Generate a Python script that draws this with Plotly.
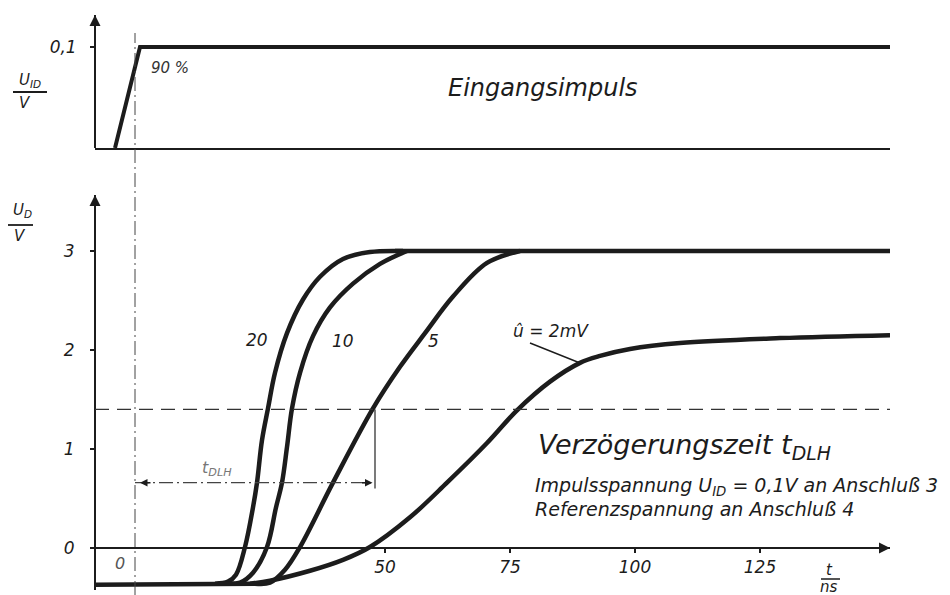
import plotly.graph_objects as go

# ---------------- data (t in ns, U in V) ----------------
baseline_t = [-8, 10, 24]
baseline_u = [-0.37, -0.365, -0.36]

plateau_t = [52, 151]
plateau_u = [3.0, 3.0]

t_20 = [16.0, 18.6, 20.2, 22.0, 23.6, 24.4, 25.4, 26.6, 28.0, 30.4, 33.6, 37.0, 41.6, 47.0, 53.6]
u_20 = [-0.36, -0.34, -0.27, 0.01, 0.41, 0.66, 1.09, 1.41, 1.77, 2.17, 2.51, 2.74, 2.92, 2.99, 3.0]

t_10 = [18.0, 21.0, 23.6, 26.4, 28.2, 29.4, 30.4, 31.4, 33.0, 35.6, 39.0, 43.6, 49.0, 54.4]
u_10 = [-0.36, -0.35, -0.25, 0.01, 0.41, 0.66, 1.02, 1.41, 1.77, 2.14, 2.43, 2.67, 2.87, 3.0]

t_5 = [24.0, 27.0, 30.0, 33.0, 39.6, 47.6, 53.0, 58.0, 63.6, 70.4, 77.0]
u_5 = [-0.36, -0.35, -0.22, 0.01, 0.66, 1.41, 1.83, 2.17, 2.54, 2.88, 3.0]

t_2mv = [23.0, 27.0, 35.0, 41.6, 47.0, 55.0, 62.4, 70.4, 76.4, 83.0, 89.0, 93.0, 99.0, 109.0, 129.0, 151.0]
u_2mv = [-0.36, -0.33, -0.23, -0.12, 0.01, 0.31, 0.66, 1.06, 1.39, 1.68, 1.87, 1.94, 2.01, 2.07, 2.12, 2.15]

pulse_t = [-4, 1, 151]
pulse_u = [0.0, 0.1, 0.1]

curve_labels = ["20", "10", "5"]
x_ticks = [50, 75, 100, 125]
y_ticks = [0, 1, 2, 3]
y2_ticks = [0.1]
threshold_u = 1.4
tdlh_u = 0.66
tdlh_end = 48.0

INK = "#1c1c1c"
OFF = 8                      # page body margin of the HTML page
FW, FH = 950 - OFF, 595 - OFF


def px(x):
    return (x - OFF) / FW


def py(y):
    return 1 - (y - OFF) / FH


fig = go.Figure()

curve_line = dict(color=INK, width=4.5, shape="spline", smoothing=1.0)
for t, u in [(t_20, u_20), (t_10, u_10), (t_5, u_5), (t_2mv, u_2mv)]:
    fig.add_trace(go.Scatter(x=t, y=u, mode="lines", xaxis="x", yaxis="y", line=curve_line,
                             hoverinfo="skip", showlegend=False))
for t, u in [(baseline_t, baseline_u), (plateau_t, plateau_u)]:
    fig.add_trace(go.Scatter(x=t, y=u, mode="lines", xaxis="x", yaxis="y",
                             line=dict(color=INK, width=4.5),
                             hoverinfo="skip", showlegend=False))

fig.add_trace(go.Scatter(x=pulse_t, y=pulse_u, mode="lines", xaxis="x2", yaxis="y2",
                         line=dict(color=INK, width=4),
                         hoverinfo="skip", showlegend=False))

shapes = [
    dict(type="line", xref="x", yref="y", x0=-8, x1=151, y0=threshold_u, y1=threshold_u,
         line=dict(color="#333", width=1.3, dash="14px,8px")),
    dict(type="line", xref="x", yref="paper", x0=0, x1=0, y0=0, y1=py(33),
         line=dict(color="#444", width=1, dash="14px,4px,2px,4px")),
    dict(type="line", xref="x", yref="y", x0=0, x1=tdlh_end, y0=tdlh_u, y1=tdlh_u,
         line=dict(color="#444", width=1.2, dash="14px,4px,2px,4px")),
    dict(type="line", xref="x", yref="y", x0=tdlh_end, x1=tdlh_end, y0=tdlh_u - 0.06, y1=threshold_u,
         line=dict(color="#333", width=1.3)),
    dict(type="line", xref="paper", yref="paper", x0=px(530), y0=py(343), x1=px(580), y1=py(363),
         line=dict(color=INK, width=1.5)),
    dict(type="line", xref="paper", yref="paper", x0=px(13), x1=px(47), y0=py(92), y1=py(92),
         line=dict(color=INK, width=1.8)),
    dict(type="line", xref="paper", yref="paper", x0=px(8), x1=px(33), y0=py(225), y1=py(225),
         line=dict(color=INK, width=1.8)),
    dict(type="line", xref="paper", yref="paper", x0=px(821), x1=px(840), y0=py(579), y1=py(579),
         line=dict(color=INK, width=1.5)),
]

ann = []


def text(x, y, s, size=17, color=INK, xanchor="center"):
    ann.append(dict(x=px(x), y=py(y), xref="paper", yref="paper", text=s, showarrow=False,
                    xanchor=xanchor, yanchor="middle", font=dict(size=size, color=color)))


text(30, 81, "U<sub>ID</sub>", 15)
text(25, 103, "V", 15)
text(22, 211, "U<sub>D</sub>", 15)
text(20, 236, "V", 15)
text(170, 68, "90 %", 15, "#333")
text(543, 88, "Eingangsimpuls", 24)
text(257, 340, curve_labels[0], 17)
text(343, 341, curve_labels[1], 17)
text(433, 341, curve_labels[2], 17)
text(551, 331, "û = 2mV", 17)
text(217, 468, "t<sub>DLH</sub>", 16, "#777")
text(536, 446, "Verzögerungszeit t<sub>DLH</sub>", 27, xanchor="left")
text(533, 486, "Impulsspannung U<sub>ID</sub> = 0,1V an Anschluß 3", 19, xanchor="left")
text(533, 509, "Referenzspannung an Anschluß 4", 19, xanchor="left")
text(120, 563, "0", 16, "#555")
text(829, 570, "t", 15)
text(829, 587, "ns", 15)

for xr, yr, x, y, axx, ayy in [("x", "y", 151, 0, -22, 0),
                               ("x", "y", -8, 353 / 99, 0, 22),
                               ("x2", "y2", -8, 133 / 1010, 0, 22)]:
    ann.append(dict(x=x, y=y, xref=xr, yref=yr, ax=axx, ay=ayy, text="", showarrow=True,
                    arrowhead=2, arrowsize=1.1, arrowwidth=2, arrowcolor=INK))
ann.append(dict(x=1, y=tdlh_u, xref="x", yref="y", ax=12, ay=0, text="", showarrow=True,
                arrowhead=2, arrowsize=1, arrowwidth=1.5, arrowcolor=INK))
ann.append(dict(x=tdlh_end - 0.5, y=tdlh_u, xref="x", yref="y", ax=-12, ay=0, text="", showarrow=True,
                arrowhead=2, arrowsize=1, arrowwidth=1.5, arrowcolor=INK))

xdom = [px(95), px(890)]
axis_common = dict(showgrid=False, zeroline=False, showline=True, linecolor=INK,
                   automargin=False, tickcolor=INK, fixedrange=True)

fig.update_layout(
    width=FW, height=FH, margin=dict(l=0, r=0, t=0, b=0), template="none",
    paper_bgcolor="white", plot_bgcolor="rgba(0,0,0,0)", separators=",.", showlegend=False,
    font=dict(family="DejaVu Sans", size=17, color=INK, style="italic"),
    xaxis=dict(domain=xdom, range=[-8, 151], anchor="free", position=py(548),
               tickvals=x_ticks, ticks="outside", ticklen=4, tickwidth=2, linewidth=1.8,
               tickfont=dict(size=17), **axis_common),
    xaxis2=dict(domain=xdom, range=[-8, 151], anchor="y2", showticklabels=False, ticks="",
                linewidth=1.8, **axis_common),
    yaxis=dict(domain=[py(590), py(195)], range=[-42 / 99, 353 / 99], anchor="free", position=px(95),
               tickvals=y_ticks, ticks="outside", ticklen=4, tickwidth=2, linewidth=1.8,
               ticklabelstandoff=12, tickfont=dict(size=17), **axis_common),
    yaxis2=dict(domain=[py(148), py(15)], range=[0, 133 / 1010], anchor="free", position=px(95),
                tickvals=y2_ticks, ticks="outside", ticklen=4, tickwidth=2, linewidth=1.8,
                ticklabelstandoff=10, tickfont=dict(size=17), **axis_common),
    shapes=shapes, annotations=ann,
)

fig.write_html("out.html")
